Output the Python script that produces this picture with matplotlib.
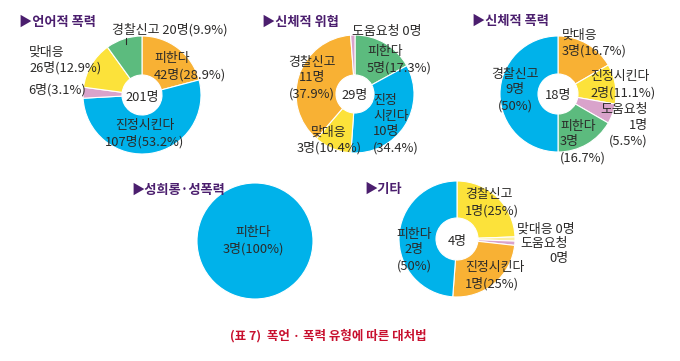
import matplotlib
matplotlib.use('Agg')
import matplotlib.pyplot as plt

plt.rcParams['font.family'] = ['Noto Sans CJK KR', 'DejaVu Sans']

# --- data (clockwise from 12 o'clock) ---
verbal_cats = ['피한다', '진정시킨다', '도움요청', '맞대응', '경찰신고']
verbal_counts = [42, 107, 6, 26, 20]
verbal_pcts = ['28.9%', '53.2%', '3.1%', '12.9%', '9.9%']

threat_cats = ['피한다', '진정시킨다', '맞대응', '경찰신고', '도움요청']
threat_counts = [5, 10, 3, 11, 0]
threat_pcts = ['17.3%', '34.4%', '10.4%', '37.9%', '']

physical_cats = ['맞대응', '진정시킨다', '도움요청', '피한다', '경찰신고']
physical_counts = [3, 2, 1, 3, 9]
physical_pcts = ['16.7%', '11.1%', '5.5%', '16.7%', '50%']

sexual_cats = ['피한다']
sexual_counts = [3]
sexual_pcts = ['100%']

other_cats = ['경찰신고', '맞대응', '도움요청', '진정시킨다', '피한다']
other_counts = [1, 0, 0, 1, 2]
other_pcts = ['25%', '', '', '25%', '50%']

ORANGE = '#F8B134'
BLUE = '#00B2EA'
GREEN = '#5CBB7E'
YELLOW = '#FCE23A'
PINK = '#D9A3CB'
PALE = '#FBEFA0'
PURPLE = '#4B1E6E'
RED = '#C8102E'
INK = '#2B2A29'

W, H = 680, 361
fig = plt.figure(figsize=(6.8, 3.61), dpi=100)
ax = fig.add_axes([0, 0, 1, 1])


def donut(cx, cy, r, hole, cats, counts, pcts, colors, labels, center_text=None):
    total = sum(counts)
    # zero answers are still drawn as a thin sliver, like the original
    shares = [c if c > 0 else total * 0.012 for c in counts]
    ax.pie(shares, colors=colors, center=(cx, H - cy), radius=r,
           startangle=90, counterclock=False, frame=True,
           wedgeprops=dict(width=r - hole, edgecolor='white', linewidth=0.8))
    for i, (fmt, x, y, ha) in enumerate(labels):
        if fmt is None:
            continue
        s = fmt.format(c=cats[i], n=counts[i], p=pcts[i])
        ax.text(x, H - y, s, ha=ha, va='center', multialignment=ha,
                fontsize=9.3, color=INK, linespacing=1.28)
    if center_text:
        ax.text(cx, H - cy - 2, center_text, ha='center', va='center',
                fontsize=9.3, color=INK)


def title(x, y, s):
    ax.text(x, H - y, '▶' + s, ha='left', va='center', fontsize=9.5,
            fontweight='bold', color=PURPLE)


# 언어적 폭력
title(19, 22, '언어적 폭력')
donut(142, 95, 59, 20, verbal_cats, verbal_counts, verbal_pcts,
      [ORANGE, BLUE, PINK, YELLOW, GREEN],
      [('{c}\n{n}명({p})', 154, 67, 'left'),
       ('{c}\n{n}명({p})', 145, 134, 'center'),
       ('{n}명({p})', 28, 90, 'left'),
       ('{c}\n{n}명({p})', 29, 60, 'left'),
       ('{c} {n}명({p})', 112, 30, 'left')],
      f'{sum(verbal_counts)}명')
ax.plot([126, 126], [H - 38, H - 44], color=INK, lw=0.8)

# 신체적 위협
title(262, 22, '신체적 위협')
donut(355, 94, 59, 19, threat_cats, threat_counts, threat_pcts,
      [GREEN, BLUE, YELLOW, ORANGE, PINK],
      [('{c}\n{n}명({p})', 367, 60, 'left'),
       ('진정\n시킨다\n{n}명\n({p})', 373, 124, 'left'),
       ('{c}\n{n}명({p})', 329, 140, 'center'),
       ('{c}\n{n}명\n({p})', 312, 78, 'center'),
       ('{c} {n}명', 352, 32, 'left')],
      f'{sum(threat_counts)}명')

# 신체적 폭력
title(472, 21, '신체적 폭력')
donut(558, 94, 58, 20, physical_cats, physical_counts, physical_pcts,
      [ORANGE, YELLOW, PINK, GREEN, BLUE],
      [('{c}\n{n}명({p})', 562, 43, 'left'),
       ('{c}\n{n}명({p})', 590, 85, 'left'),
       ('{c}\n{n}명\n({p})', 648, 125, 'right'),
       ('{c}\n{n}명\n({p})', 560, 142, 'left'),
       ('{c}\n{n}명\n({p})', 515, 90, 'center')],
      f'{sum(physical_counts)}명')

# 성희롱·성폭력
title(131, 190, '성희롱·성폭력')
donut(255, 241, 58, 0, sexual_cats, sexual_counts, sexual_pcts,
      [BLUE],
      [('{c}\n{n}명({p})', 253, 241, 'center')])

# 기타
title(364, 189, '기타')
donut(457, 239, 58, 21, other_cats, other_counts, other_pcts,
      [YELLOW, PALE, PINK, ORANGE, BLUE],
      [('{c}\n{n}명({p})', 465, 203, 'left'),
       ('{c} {n}명', 517, 229, 'left'),
       ('{c}\n{n}명', 568, 251, 'right'),
       ('{c}\n{n}명({p})', 465, 276, 'left'),
       ('{c}\n{n}명\n({p})', 414, 250, 'center')],
      f'{sum(other_counts)}명')

ax.text(230, H - 336, '(표 7)  폭언 · 폭력 유형에 따른 대처법', ha='left', va='center',
        fontsize=9, fontweight='bold', color=RED)

ax.set_xlim(0, W)
ax.set_ylim(0, H)
ax.set_aspect('equal')
ax.axis('off')
fig.savefig('out.png', dpi=100)
